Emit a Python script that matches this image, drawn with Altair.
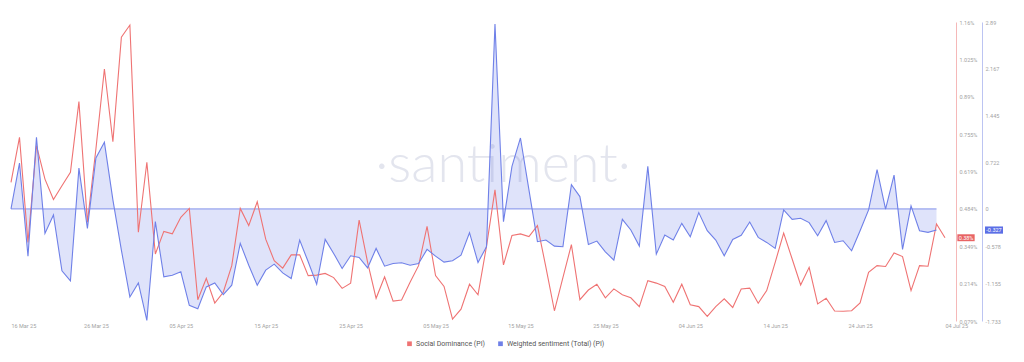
import altair as alt
import pandas as pd

# ---------------- data ----------------
start_date = "2025-03-16"

social_dominance = [
    0.580, 0.743, 0.363, 0.713, 0.592, 0.518, 0.568, 0.617, 0.872, 0.436,
    0.701, 0.990, 0.727, 1.105, 1.149, 0.400, 0.653, 0.321, 0.403, 0.394,
    0.454, 0.486, 0.156, 0.233, 0.144, 0.183, 0.279, 0.486, 0.424, 0.510,
    0.375, 0.297, 0.270, 0.318, 0.318, 0.243, 0.245, 0.251, 0.236, 0.197,
    0.216, 0.444, 0.291, 0.161, 0.239, 0.151, 0.155, 0.219, 0.279, 0.421,
    0.243, 0.204, 0.086, 0.122, 0.212, 0.174, 0.349, 0.553, 0.282, 0.388,
    0.394, 0.384, 0.424, 0.273, 0.116, 0.236, 0.355, 0.156, 0.191, 0.212,
    0.163, 0.195, 0.174, 0.163, 0.131, 0.225, 0.216, 0.204, 0.147, 0.212,
    0.138, 0.131, 0.096, 0.131, 0.159, 0.128, 0.195, 0.198, 0.143, 0.189,
    0.291, 0.397, 0.303, 0.209, 0.273, 0.141, 0.161, 0.115, 0.114, 0.116,
    0.144, 0.255, 0.279, 0.276, 0.325, 0.312, 0.189, 0.279, 0.277, 0.430,
    0.380,
]

weighted_sentiment = [
    0.000, 0.709, -0.730, 1.108, -0.378, -0.093, -0.958, -1.113, 0.631, -0.300,
    0.787, 1.030, 0.140, -0.637, -1.361, -1.144, -1.724, -0.197, -1.051, -1.025,
    -0.973, -1.491, -1.543, -1.206, -1.144, -1.325, -1.180, -0.533, -0.870, -1.180,
    -0.947, -0.854, -0.989, -1.077, -0.481, -0.818, -1.165, -0.471, -0.688, -0.921,
    -0.725, -0.751, -0.911, -0.611, -0.885, -0.844, -0.833, -0.870, -0.844, -0.626,
    -0.730, -0.823, -0.802, -0.714, -0.368, -0.828, -0.585, 2.857, -0.197, 0.657,
    1.097, 0.295, -0.507, -0.481, -0.575, -0.585, 0.373, 0.191, -0.549, -0.497,
    -0.663, -0.792, -0.161, -0.326, -0.575, 0.657, -0.699, -0.404, -0.481, -0.223,
    -0.430, -0.057, -0.337, -0.481, -0.725, -0.471, -0.409, -0.202, -0.440, -0.518,
    -0.611, -0.016, -0.161, -0.145, -0.212, -0.414, -0.181, -0.518, -0.492, -0.647,
    -0.337, -0.016, 0.606, -0.005, 0.523, -0.626, 0.046, -0.337, -0.362, -0.327,
]

series_names = ["Social Dominance (PI)", "Weighted sentiment (Total) (PI)"]
x_tick_dates = [(3, 16), (3, 26), (4, 5), (4, 15), (4, 25), (5, 5), (5, 15),
                (5, 25), (6, 4), (6, 14), (6, 24), (7, 4)]
red_ticks = [0.079, 0.214, 0.349, 0.484, 0.619, 0.755, 0.89, 1.025, 1.16]
blue_ticks = [-1.733, -1.155, -0.578, 0, 0.722, 1.445, 2.167, 2.89]
red_domain = [0.079, 1.16]
blue_domain = [-1.733, 2.89]
watermark_text = "·santiment·"

# ---------------- styling ----------------
RED = "#ef7373"
BLUE = "#6f80e8"
AXIS_LABEL = "#a3a3a3"
FONT = "Roboto"
W, H = 934, 299

dates = pd.date_range(start_date, periods=len(social_dominance), freq="D")
df = pd.DataFrame({
    "date": dates,
    "social": social_dominance,
    "sentiment": weighted_sentiment + [None] * (len(social_dominance) - len(weighted_sentiment)),
})
rule_df = pd.DataFrame({
    "start": [dates[0]],
    "end": [dates[len(weighted_sentiment) - 1]],
    "zero": [0.0],
})
red_badge_df = pd.DataFrame({"social": [social_dominance[-1]],
                             "label": [f"{social_dominance[-1]:.2f}%"]})
blue_badge_df = pd.DataFrame({"sentiment": [weighted_sentiment[-1]],
                              "label": [f"{weighted_sentiment[-1]:.3f}"]})
legend_df = pd.DataFrame({"series": series_names,
                          "date": [dates[0]] * 2,
                          "social": [social_dominance[0]] * 2})
wm_df = pd.DataFrame({"t": [watermark_text]})

x_axis = alt.Axis(
    values=[alt.DateTime(year=2025, month=m, date=d) for m, d in x_tick_dates],
    format="%d %b %y", title=None, grid=False, domain=False, ticks=False,
    labelFontSize=5.5, labelColor=AXIS_LABEL, labelFont=FONT, labelPadding=2,
    labelOverlap=False,
    labelAlign={"expr": "datum.index === 0 || datum.index === 1 ? 'left' : 'center'"},
)
X = alt.X("date:T", axis=x_axis, scale=alt.Scale(nice=False))

red_scale = alt.Scale(domain=red_domain, nice=False, zero=False)
blue_scale = alt.Scale(domain=blue_domain, nice=False, zero=False)

red_axis = alt.Axis(
    orient="right", offset=11, values=red_ticks, title=None, grid=False, ticks=False,
    labelExpr="format(datum.value, '.4~g') + '%'", domainColor="#f5b8b8",
    labelFontSize=5.5, labelColor=AXIS_LABEL, labelFont=FONT, labelPadding=3,
    labelOverlap=False,
)
blue_axis = alt.Axis(
    orient="right", offset=37, values=blue_ticks, title=None, grid=False, ticks=False,
    labelExpr="replace(format(datum.value, '.4~g'), '\u2212', '-')",
    domainColor="#bcc4f2",
    labelFontSize=5.5, labelColor=AXIS_LABEL, labelFont=FONT, labelPadding=3,
    labelOverlap=False,
)

base = alt.Chart(df)
valid = "isValid(datum.sentiment)"

watermark = alt.Chart(wm_df).mark_text(
    font="Lato", fontSize=54, fontWeight=300, color="#e3e5ee",
    align="center", baseline="alphabetic",
).encode(x=alt.value(492), y=alt.value(160), text="t:N")

area = base.transform_filter(valid).transform_calculate(zero="0").mark_area(
    color=BLUE, opacity=0.22
).encode(
    x=X,
    y=alt.Y("sentiment:Q", scale=blue_scale, axis=None),
    y2="zero:Q",
)

zero_rule = alt.Chart(rule_df).mark_rule(color=BLUE, strokeWidth=1, opacity=0.85).encode(
    x=alt.X("start:T", axis=x_axis, scale=alt.Scale(nice=False)),
    x2="end:T",
    y=alt.Y("zero:Q", scale=blue_scale, axis=None),
)

red_line = base.mark_line(color=RED, strokeWidth=1.1).encode(
    x=X, y=alt.Y("social:Q", scale=red_scale, axis=red_axis),
)

blue_line = base.transform_filter(valid).mark_line(color=BLUE, strokeWidth=1.1).encode(
    x=X, y=alt.Y("sentiment:Q", scale=blue_scale, axis=blue_axis),
)

RECT = "M-1,-0.4L1,-0.4L1,0.4L-1,0.4Z"
red_badge = alt.Chart(red_badge_df).mark_point(
    shape=RECT, filled=True, size=300, color="#e86464", opacity=1
).encode(x=alt.value(W + 21), y=alt.Y("social:Q", scale=red_scale, axis=None))
red_badge_txt = alt.Chart(red_badge_df).mark_text(
    color="white", fontSize=5.5, font=FONT, align="center", baseline="middle"
).encode(x=alt.value(W + 21), y=alt.Y("social:Q", scale=red_scale, axis=None), text="label:N")

blue_badge = alt.Chart(blue_badge_df).mark_point(
    shape=RECT, filled=True, size=324, color="#5b6fe6", opacity=1
).encode(x=alt.value(W + 49), y=alt.Y("sentiment:Q", scale=blue_scale, axis=None))
blue_badge_txt = alt.Chart(blue_badge_df).mark_text(
    color="white", fontSize=5.5, font=FONT, align="center", baseline="middle"
).encode(x=alt.value(W + 49), y=alt.Y("sentiment:Q", scale=blue_scale, axis=None), text="label:N")

legend_layer = alt.Chart(legend_df).mark_square(opacity=0, size=25).encode(
    x=X,
    y=alt.Y("social:Q", scale=red_scale, axis=None),
    color=alt.Color(
        "series:N",
        scale=alt.Scale(domain=series_names, range=[RED, BLUE]),
        legend=alt.Legend(
            orient="none", legendX=395, legendY=318, direction="horizontal",
            title=None, symbolType="square", symbolSize=22, symbolOpacity=1,
            symbolStrokeWidth=0, labelFontSize=7, labelColor="#555555",
            labelFont=FONT, columnPadding=12, labelOffset=3,
        ),
    ),
)

chart = alt.layer(
    watermark, area, zero_rule, red_line, blue_line,
    red_badge, red_badge_txt, blue_badge, blue_badge_txt, legend_layer,
).resolve_scale(y="independent").properties(
    width=W, height=H,
    padding={"left": 0, "top": 12, "right": 5, "bottom": 5},
).configure(
    background="white",
).configure_view(stroke=None, strokeWidth=0)

chart.save("out.html", embed_options={"renderer": "svg", "actions": False})
